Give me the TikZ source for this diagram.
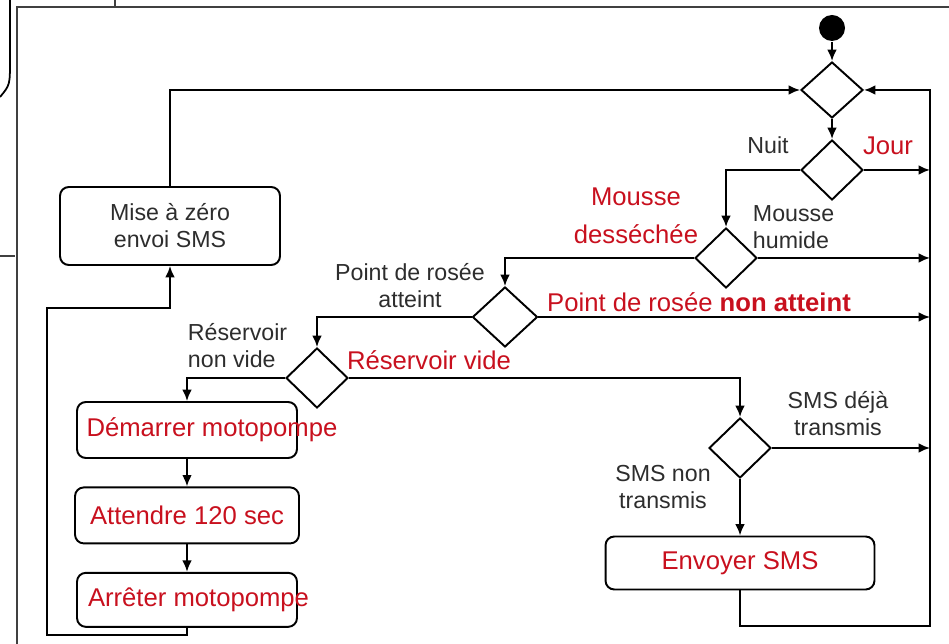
\documentclass[tikz,border=0pt]{standalone}
\usepackage{fontspec}
\setmainfont{Liberation Sans}
\usepackage{tikz}
\usetikzlibrary{positioning,shapes.geometric,arrows.meta}
\definecolor{txtred}{RGB}{200,16,30}
\definecolor{txtgray}{RGB}{45,45,45}

\begin{document}
\begin{tikzpicture}[x=0.02cm, y=-0.02cm, line width=1.1pt, >={Latex[length=6.5pt,width=5.5pt]}, node distance=0.55cm,
  lbl/.style={text=txtgray, font=\fontsize{13.2}{15.3}\selectfont, align=center, inner sep=0pt},
  redlbl/.style={text=txtred, font=\fontsize{14.6}{21.5}\selectfont, align=center, inner sep=0pt},
  choice/.style={draw, diamond, inner sep=0pt, minimum width=1.24cm, minimum height=1.2cm},
  stepbox/.style={draw, rectangle, rounded corners=5pt, inner sep=0pt}]

\useasboundingbox (0,0) rectangle (949,644);

% screenshot border
\draw[line width=0.8pt, black!75] (17,644) -- (17,7) -- (949,7);
\draw[line width=0.8pt, black!75] (115,0) -- (115,7);
\draw[line width=0.8pt, black!75] (0,256) -- (15,256);
\draw[line width=1pt] (10,0) -- (10,60) .. controls (10,85) .. (0,97);

% Start and decisions
\node[circle, fill=black, minimum size=0.52cm, inner sep=0pt] (start) at (832,28) {};
\node[choice, minimum height=1.12cm] (merge) at (832,90) {};
\node[choice] (daynight) at (832,170) {};
\node[choice] (moss) at (726,258) {};
\node[choice, minimum width=1.3cm] (dew) at (505,317) {};
\node[choice] (tank) at (317,378) {};
\node[choice] (smssent) at (740,448) {};

% Actions
\node[stepbox, lbl, minimum width=4.4cm, minimum height=1.56cm] (reset) at (170,226) {Mise à zéro\\envoi SMS};
\node[stepbox, minimum width=4.4cm, minimum height=1.12cm,
  label={[redlbl, xshift=0.5cm]center:Démarrer motopompe}] (pumpon) at (187,430) {};
\node[stepbox, redlbl, minimum width=4.48cm, minimum height=1.12cm, below=of pumpon] (wait) {Attendre 120 sec};
\node[stepbox, minimum width=4.4cm, minimum height=1.08cm, below=of wait,
  label={[redlbl, xshift=0.23cm]center:Arrêter motopompe}] (pumpoff) {};
\node[stepbox, redlbl, minimum width=5.38cm, minimum height=1.06cm] (sms) at (740,563) {Envoyer SMS};

% Branch labels
\node[lbl] (nightlbl) at (768,145) {Nuit};
\node[redlbl] (daylbl) at (888,146) {Jour};
\node[redlbl] (drylbl) at (636,216) {Mousse\\desséchée};
\node[lbl, align=left, anchor=west] (wetlbl) at (752,227) {Mousse\\humide};
\node[lbl] (dewlbl) at (410,286) {Point de rosée\\atteint};
\node[redlbl] (nodewlbl) at (699,302) {Point de rosée \textbf{non atteint}};
\node[lbl, align=left, anchor=west] (fulllbl) at (187,346) {Réservoir\\non vide};
\node[redlbl] (emptylbl) at (429,360) {Réservoir vide};
\node[lbl] (sentlbl) at (838,414) {SMS déjà\\transmis};
\node[lbl] (notsentlbl) at (663,487) {SMS non\\transmis};

% Loop corners
\coordinate (loopR) at (930,626);
\coordinate (lowL) at (47,635);
\coordinate (midL) at (47,308);

% Connections
\draw[->] (start) -- (merge);
\draw[->] (merge) -- (daynight);
\draw[->] (daynight.east) -- (daynight.east -| loopR);
\draw[->] (daynight.west) -| (moss.north);
\draw[->] (moss.east) -- (moss.east -| loopR);
\draw[->] (moss.west) -| (dew.north);
\draw[->] (dew.east) -- (dew.east -| loopR);
\draw[->] (dew.west) -| (tank.north);
\draw[->] (tank.west) -| (pumpon.north);
\draw[->] (tank.east) -| (smssent.north);
\draw[->] (smssent.east) -- (smssent.east -| loopR);
\draw[->] (smssent) -- (sms);
\draw[->] (pumpon) -- (wait);
\draw[->] (wait) -- (pumpoff);
\draw[->] (pumpoff.south) |- (lowL) -- (midL) -| (reset.south);
\draw[->] (sms.south) |- (loopR) |- (merge.east);
\draw[->] (reset.north) |- (merge.west);
\end{tikzpicture}
\end{document}
